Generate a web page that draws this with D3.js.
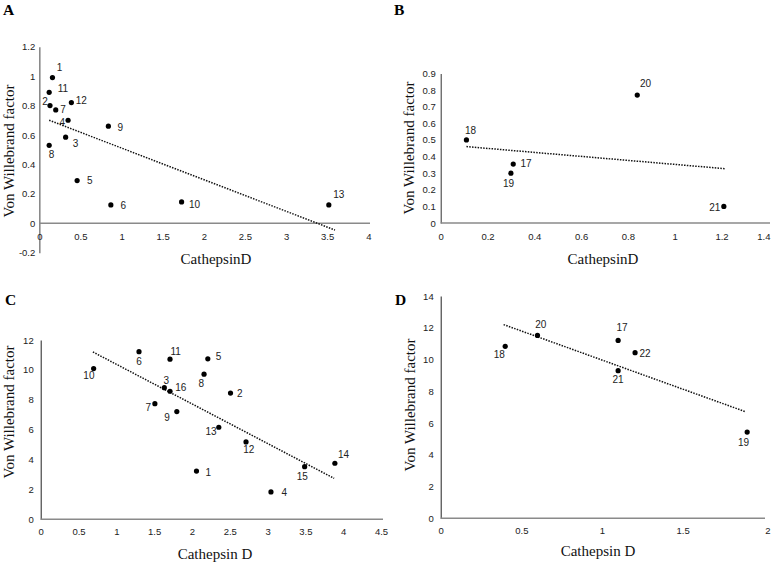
<!DOCTYPE html>
<html>
<head>
<meta charset="utf-8">
<script src="https://cdn.jsdelivr.net/npm/d3@7"></script>
<style>
  html, body { margin: 0; padding: 0; background: #fff; }
  svg { display: block; }
</style>
</head>
<body>
<svg id="chart" width="771" height="564"></svg>
<script>
// ---------------- DATA ----------------
// Panel A
const idsA = ["1","11","2","7","12","4","9","3","8","5","6","10","13"];
const xA   = [0.16, 0.12, 0.13, 0.20, 0.39, 0.35, 0.84, 0.32, 0.12, 0.46, 0.87, 1.73, 3.52];
const yA   = [0.99, 0.89, 0.80, 0.77, 0.82, 0.70, 0.66, 0.585, 0.53, 0.29, 0.125, 0.145, 0.125];
const trendA = [[0.12, 0.70], [3.595, -0.046]];
const xTicksA = [0, 0.5, 1, 1.5, 2, 2.5, 3, 3.5, 4];
const yTicksA = [-0.2, 0, 0.2, 0.4, 0.6, 0.8, 1, 1.2];

// Panel B
const idsB = ["18","17","19","20","21"];
const xB   = [0.11, 0.31, 0.30, 0.84, 1.21];
const yB   = [0.50, 0.355, 0.30, 0.77, 0.10];
const trendB = [[0.11, 0.46], [1.215, 0.327]];
const xTicksB = [0, 0.2, 0.4, 0.6, 0.8, 1, 1.2, 1.4];
const yTicksB = [0, 0.1, 0.2, 0.3, 0.4, 0.5, 0.6, 0.7, 0.8, 0.9];

// Panel C
const idsC = ["10","6","11","5","8","3","16","2","7","9","13","12","1","15","14","4"];
const xC   = [0.70, 1.30, 1.71, 2.21, 2.16, 1.635, 1.71, 2.51, 1.51, 1.80, 2.355, 2.715, 2.06, 3.49, 3.89, 3.045];
const yC   = [10.09, 11.22, 10.72, 10.74, 9.71, 8.81, 8.57, 8.45, 7.74, 7.21, 6.16, 5.18, 3.23, 3.52, 3.75, 1.83];
const trendC = [[0.69, 11.2], [3.88, 2.74]];
const xTicksC = [0, 0.5, 1, 1.5, 2, 2.5, 3, 3.5, 4, 4.5];
const yTicksC = [0, 2, 4, 6, 8, 10, 12];

// Panel D
const idsD = ["18","20","17","21","22","19"];
const xD   = [0.40, 0.60, 1.10, 1.10, 1.205, 1.90];
const yD   = [10.83, 11.52, 11.2, 9.3, 10.43, 5.43];
const trendD = [[0.39, 12.2], [1.89, 6.71]];
const xTicksD = [0, 0.5, 1, 1.5, 2];
const yTicksD = [0, 2, 4, 6, 8, 10, 12, 14];

// ---------------- LAYOUT (label offsets in px, not data) ----------------
const labOffA = [[7,-10.4],[13.7,-4],[-5,-4.3],[7.3,0],[10,-2.3],[-5.7,2.3],[12,1],[10,6.7],[2.3,9.3],[12.7,0],[12.3,0.7],[13,3],[10,-10]];
const labOffB = [[4,-9.7],[12.7,-1],[-2.3,10.7],[8.3,-11.3],[-9,0.7]];
const labOffC = [[-4.7,7.3],[0,10],[5.7,-8],[10.7,-2],[-2.7,9],[2,-7.3],[10.7,-4],[9.3,0.3],[-6.7,4],[-9.7,6.3],[-7.7,4.3],[2.7,8],[11.7,1],[-2.3,9.3],[8.7,-8.7],[13.3,0.3]];
const labOffD = [[-6,8],[3.3,-11],[4,-12.7],[0,8.7],[10,0.7],[-3.7,10]];

const W = 771;
const svg = d3.select("#chart");

function fmt(v) { return String(v); }

function drawPanel(cfg) {
  const g = svg.append("g");
  const x = d3.scaleLinear().domain(cfg.xDomain).range(cfg.xRange);
  const y = d3.scaleLinear().domain(cfg.yDomain).range(cfg.yRange);

  // panel letter
  g.append("text").attr("x", cfg.letterPos[0]).attr("y", cfg.letterPos[1])
    .attr("font-family", "Liberation Serif, Times New Roman, serif")
    .attr("font-weight", "bold").attr("font-size", 15.5).attr("fill", "#000")
    .text(cfg.letter);

  // y axis
  const yAxis = d3.axisLeft(y).tickValues(cfg.yTicks).tickSize(0).tickPadding(cfg.yPad).tickFormat(fmt);
  const ya = g.append("g").attr("transform", `translate(${x(cfg.xDomain[0])},0)`).call(yAxis);
  ya.select(".domain").attr("stroke", cfg.yAxisColor).attr("stroke-width", cfg.yAxisWidth);
  ya.selectAll("text").attr("font-family", "Liberation Sans, Arial, sans-serif")
    .attr("font-size", 9.5).attr("fill", "#222");

  // x axis at y = 0
  const xAxis = d3.axisBottom(x).tickValues(cfg.xTicks).tickSize(0).tickPadding(cfg.xPad).tickFormat(fmt);
  const xa = g.append("g").attr("transform", `translate(0,${y(0)})`).call(xAxis);
  xa.select(".domain").attr("stroke", "#8a8a8a").attr("stroke-width", 1.6)
    .attr("d", `M${x(cfg.xDomain[0])},0H${cfg.xAxisEnd}`);
  xa.selectAll("text").attr("font-family", "Liberation Sans, Arial, sans-serif")
    .attr("font-size", 9.5).attr("fill", "#222");
  // keep the last tick label inside the page
  xa.selectAll(".tick").each(function(d) {
    if (x(d) + 8 > W) {
      d3.select(this).select("text").attr("text-anchor", "end").attr("x", W - 1 - x(d));
    }
  });

  // trendline
  g.append("path").datum(cfg.trend)
    .attr("d", d3.line().x(d => x(d[0])).y(d => y(d[1])))
    .attr("fill", "none").attr("stroke", "#111").attr("stroke-width", 1.5)
    .attr("stroke-dasharray", "1.5,1.3");

  const pts = cfg.ids.map((id, i) => ({ id, x: cfg.xs[i], y: cfg.ys[i], off: cfg.offs[i] }));

  g.selectAll("circle.pt").data(pts).enter().append("circle")
    .attr("class", "pt").attr("cx", d => x(d.x)).attr("cy", d => y(d.y))
    .attr("r", 2.6).attr("fill", "#000");

  g.selectAll("text.lab").data(pts).enter().append("text")
    .attr("class", "lab")
    .attr("x", d => x(d.x) + d.off[0]).attr("y", d => y(d.y) + d.off[1])
    .attr("dy", "0.35em").attr("text-anchor", "middle")
    .attr("font-family", "Liberation Sans, Arial, sans-serif")
    .attr("font-size", 10).attr("fill", "#222")
    .text(d => d.id);

  // axis titles
  g.append("text").attr("x", cfg.xTitlePos[0]).attr("y", cfg.xTitlePos[1])
    .attr("text-anchor", "middle")
    .attr("font-family", "Liberation Serif, Times New Roman, serif")
    .attr("font-size", 15).attr("fill", "#111").text(cfg.xTitle);
  g.append("text")
    .attr("transform", `translate(${cfg.yTitlePos[0]},${cfg.yTitlePos[1]}) rotate(-90)`)
    .attr("text-anchor", "middle")
    .attr("font-family", "Liberation Serif, Times New Roman, serif")
    .attr("font-size", 15).attr("fill", "#111").text("Von Willebrand factor");
}

drawPanel({
  letter: "A", letterPos: [3, 15],
  ids: idsA, xs: xA, ys: yA, offs: labOffA, trend: trendA,
  xDomain: [0, 4], xRange: [39.3, 368.3], yDomain: [-0.2, 1.2], yRange: [252.7, 46.7],
  xTicks: xTicksA, yTicks: yTicksA, xAxisEnd: 370, xPad: 10, yPad: 4,
  yAxisColor: "#8a8a8a", yAxisWidth: 1.6,
  xTitle: "CathepsinD", xTitlePos: [216, 264], yTitlePos: [14, 151]
});

drawPanel({
  letter: "B", letterPos: [394, 15],
  ids: idsB, xs: xB, ys: yB, offs: labOffB, trend: trendB,
  xDomain: [0, 1.4], xRange: [440.7, 768.3], yDomain: [0, 0.9], yRange: [223, 73.5],
  xTicks: xTicksB, yTicks: yTicksB, xAxisEnd: 770, xPad: 10, yPad: 5,
  yAxisColor: "#333", yAxisWidth: 1,
  xTitle: "CathepsinD", xTitlePos: [603, 264], yTitlePos: [414, 148]
});

drawPanel({
  letter: "C", letterPos: [5, 305],
  ids: idsC, xs: xC, ys: yC, offs: labOffC, trend: trendC,
  xDomain: [0, 4.5], xRange: [40.7, 381], yDomain: [0, 12], yRange: [519.3, 340],
  xTicks: xTicksC, yTicks: yTicksC, xAxisEnd: 383, xPad: 9, yPad: 7,
  yAxisColor: "#222", yAxisWidth: 1,
  xTitle: "Cathepsin D", xTitlePos: [215, 559], yTitlePos: [14, 412]
});

drawPanel({
  letter: "D", letterPos: [395, 305],
  ids: idsD, xs: xD, ys: yD, offs: labOffD, trend: trendD,
  xDomain: [0, 2], xRange: [440.7, 763.3], yDomain: [0, 14], yRange: [518.3, 296],
  xTicks: xTicksD, yTicks: yTicksD, xAxisEnd: 765, xPad: 9, yPad: 7,
  yAxisColor: "#222", yAxisWidth: 1,
  xTitle: "Cathepsin D", xTitlePos: [598, 556], yTitlePos: [415, 405]
});
</script>
</body>
</html>
